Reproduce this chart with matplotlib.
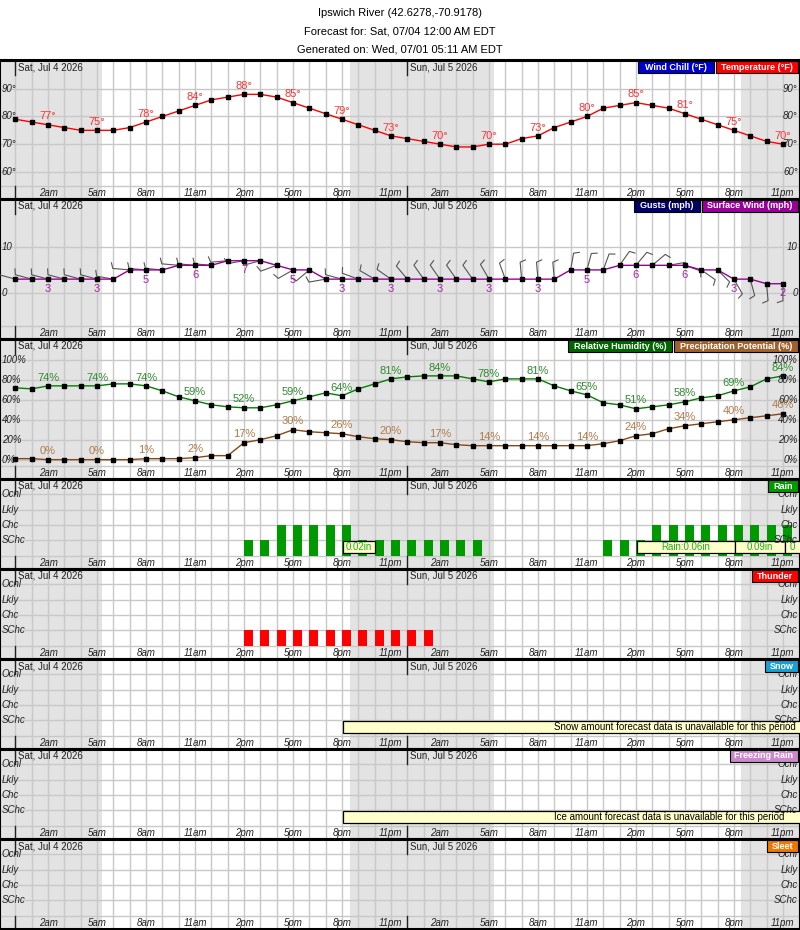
import numpy as np
import matplotlib
matplotlib.use("Agg")
import matplotlib.pyplot as plt
from matplotlib.patches import Rectangle
from matplotlib.collections import LineCollection

plt.rcParams['font.family'] = ['Liberation Sans', 'DejaVu Sans']

# ---- data (hourly, Sat 12am .. Sun 11pm) ----
hours = np.arange(48)
temp = [79, 78, 77, 76, 75, 75, 75, 76, 78, 80, 82, 84, 86, 87, 88, 88, 87, 85, 83, 81, 79, 77, 75, 73,
        72, 71, 70, 69, 69, 70, 70, 72, 73, 76, 78, 80, 83, 84, 85, 84, 83, 81, 79, 77, 75, 73, 71, 70]
wind = [3, 3, 3, 3, 3, 3, 3, 5, 5, 5, 6, 6, 6, 7, 7, 7, 6, 5, 5, 3, 3, 3, 3, 3,
        3, 3, 3, 3, 3, 3, 3, 3, 3, 3, 5, 5, 5, 6, 6, 6, 6, 6, 5, 5, 3, 3, 2, 2]
wind_dir = [285, 285, 285, 285, 285, 285, 280, 275, 275, 275, 275, 275, 275, 265, 260, 255, 250, 240, 230, 260, 285, 290, 300, 305,
            320, 325, 325, 325, 325, 330, 340, 355, 355, 355, 10, 15, 20, 35, 40, 50, 80, 110, 125, 135, 150, 165, 175, 180]
rh = [72, 71, 74, 74, 74, 74, 76, 76, 74, 69, 63, 59, 55, 53, 52, 52, 55, 59, 63, 67, 64, 71, 76, 81,
      83, 84, 84, 84, 81, 78, 81, 81, 81, 74, 69, 65, 57, 55, 51, 53, 55, 58, 62, 64, 69, 73, 81, 84]
pop = [1, 1, 0, 0, 0, 0, 0, 0, 1, 1, 1, 2, 4, 4, 17, 20, 24, 30, 28, 27, 26, 23, 21, 20,
       18, 17, 17, 15, 14, 14, 14, 14, 14, 14, 14, 14, 16, 19, 24, 26, 31, 34, 36, 38, 40, 42, 44, 46]
# 0 none, 1 SChc, 2 Chc, 3 Lkly, 4 Ocnl
rain = [0] * 14 + [1, 1, 2, 2, 2, 2, 2, 1, 1, 1] + [1, 1, 1, 1, 1] + [0] * 7 + [1, 1, 1] + [2] * 9
thunder = [0] * 14 + [1] * 12 + [0] * 22
rain_amt = [(20, 22, "0.02in"), (38, 44, "Rain:0.06in"), (44, 47.1, "0.09in"), (47.1, 53.1, "0")]

hour_names = ["2am", "5am", "8am", "11am", "2pm", "5pm", "8pm", "11pm"]
days = ["Sat, Jul 4 2026", "Sun, Jul 5 2026"]
nights = [(-1, 5.28), (20.47, 29.3), (44.41, 49)]

W, H = 800, 930
PXH = 16.33  # pixels per hour
XL = (-15.4 / PXH, (800 - 15.4) / PXH)
fig = plt.figure(figsize=(W / 100, H / 100), dpi=100)
fig.patch.set_facecolor('white')

fig.text(0.5, 1 - 13 / H, "Ipswich River (42.6278,-70.9178)", ha='center', va='center', fontsize=8)
fig.text(0.5, 1 - 32 / H, "Forecast for: Sat, 07/04 12:00 AM EDT", ha='center', va='center', fontsize=8)
fig.text(0.5, 1 - 50 / H, "Generated on: Wed, 07/01 05:11 AM EDT", ha='center', va='center', fontsize=8)

GRID = '#c8c8c8'


def panel(top, bot, ylim, hlines, ylabels, legends, right_lab=True):
    ax = fig.add_axes([0, 1 - bot / H, 1, (bot - top) / H])
    ax.set_xlim(*XL)
    ax.set_ylim(*ylim)
    ax.set_xticks([])
    ax.set_yticks([])
    for s in ['top', 'bottom']:
        ax.spines[s].set_linewidth(2.2)
    for s in ['left', 'right']:
        ax.spines[s].set_linewidth(1.5)
    for a, b in nights:
        ax.axvspan(a, b, color='#e3e3e3', lw=0, zorder=0)
    for h in range(0, 49):
        ax.axvline(h, color=GRID, lw=1, zorder=1)
    hpx = bot - top
    sep = 13.3 / hpx
    ax.plot([0, 1], [sep, sep], transform=ax.transAxes, color=GRID, lw=1, zorder=1)
    for y in hlines:
        ax.axhline(y, color=GRID, lw=1, zorder=1)
    tr = ax.get_xaxis_transform()
    for d in (0, 24):
        ax.plot([d, d], [1, 1 - 15 / hpx], transform=tr, color='#222222', lw=1, zorder=2)
        ax.plot([d, d], [0, sep], transform=tr, color='#222222', lw=1, zorder=2)
        ax.text(d + 0.15, 1 - 7 / hpx, days[d // 24], transform=tr, fontsize=7, va='center', ha='left', color='#222222')
    for i, h in enumerate(range(2, 48, 3)):
        ax.text(h, 6.5 / hpx, hour_names[i % 8], transform=tr, fontsize=7, style='italic',
                ha='center', va='center', color='#222222')
    for y, s in ylabels:
        ax.text(0.002, y, s, transform=ax.get_yaxis_transform(), fontsize=7, style='italic',
                ha='left', va='center', color='#222222', zorder=6)
        if right_lab:
            ax.text(0.997, y, s, transform=ax.get_yaxis_transform(), fontsize=7, style='italic',
                    ha='right', va='center', color='#222222', zorder=6)
    # legend boxes, right to left
    x = W - 2
    for txt, col, wpx in legends:
        fig.patches.append(Rectangle(((x - wpx) / W, 1 - (top + 13) / H), wpx / W, 12 / H,
                                     transform=fig.transFigure, facecolor=col, edgecolor='black', lw=0.8, zorder=10))
        fig.text((x - wpx / 2) / W, 1 - (top + 7) / H, txt, ha='center', va='center', fontsize=6.5,
                 fontweight='bold', color='white', zorder=11)
        x -= wpx + 2
    return ax


def label_series(ax, vals, color, dy, fmt):
    for h in range(2, 48, 3):
        ax.annotate(fmt.format(vals[h]), (h, vals[h]), xytext=(0, dy), textcoords='offset points',
                    ha='center', va='center', fontsize=8, color=color, zorder=7)


# temperature
ax = panel(60, 199, (50.2, 100.4), [60, 70, 80, 90],
           [(90, "90°"), (80, "80°"), (70, "70°"), (60, "60°")],
           [("Temperature (°F)", '#ff0000', 82), ("Wind Chill (°F)", '#0000cc', 76)])
ax.plot(hours, temp, color='#ff0000', lw=1, marker='s', ms=2.5, mfc='black', mec='black', zorder=5)
label_series(ax, temp, '#ff3333', 6, "{}°")

# wind
wlim = (-10, 20.4)
ax = panel(199, 339, wlim, [0, 10],
           [(10, "10"), (0, "0")],
           [("Surface Wind (mph)", '#990099', 96), ("Gusts (mph)", '#000066', 66)])
pxy = 140 / (wlim[1] - wlim[0])  # pixels per mph
rad = np.deg2rad(wind_dir)
segs = []
for h, s, r in zip(hours, wind, rad):
    # shaft toward the direction the wind comes from, half barb at the tip (clockwise side)
    ux, uy = np.sin(r), np.cos(r)
    tipx, tipy = ux * 17, uy * 17
    bx, by = tipx + uy * 6 + ux * 2, tipy - ux * 6 + uy * 2
    segs.append([(h, s), (h + tipx / PXH, s + tipy / pxy), (h + bx / PXH, s + by / pxy)])
ax.add_collection(LineCollection(segs, colors='#555555', linewidths=0.8, zorder=3))
ax.plot(hours, wind, color='#990099', lw=1, marker='s', ms=2.5, mfc='black', mec='black', zorder=5)
label_series(ax, wind, '#aa22aa', -7, "{}")

# humidity / precip potential
ax = panel(339, 479, (-19.4, 121), [0, 20, 40, 60, 80, 100],
           [(100, "100%"), (80, "80%"), (60, "60%"), (40, "40%"), (20, "20%"), (0, "0%")],
           [("Precipitation Potential (%)", '#a0622d', 124), ("Relative Humidity (%)", '#006600', 104)])
ax.plot(hours, rh, color='#008000', lw=1, marker='s', ms=2.5, mfc='black', mec='black', zorder=5)
ax.plot(hours, pop, color='#8b4513', lw=1, marker='s', ms=2.5, mfc='black', mec='black', zorder=5)
label_series(ax, rh, '#2e8b2e', 6, "{}%")
label_series(ax, pop, '#b07a4a', 6, "{}%")

cat_lab = [(4, "Ocnl"), (3, "Lkly"), (2, "Chc"), (1, "SChc")]
cat_lim = (-0.87, 5.0)

# rain
ax = panel(479, 569, cat_lim, [1, 2, 3, 4], cat_lab, [("Rain", '#009900', 30)])
ax.bar(hours, rain, width=0.55, align='edge', color='#009900', zorder=3)
for a, b, t in rain_amt:
    ax.add_patch(Rectangle((a + 0.05, 0.2), b - a, 0.78, facecolor='#ffffcc', edgecolor='black', lw=0.9, zorder=4))
    if b > 48:
        ax.text(a + 0.3, 0.59, t, ha='left', va='center', fontsize=7, color='#22aa22', zorder=5)
    else:
        ax.text((a + b) / 2 + 0.05, 0.59, t, ha='center', va='center', fontsize=7, color='#22aa22', zorder=5)

# thunder
ax = panel(569, 659, cat_lim, [1, 2, 3, 4], cat_lab, [("Thunder", '#ff0000', 46)])
ax.bar(hours, thunder, width=0.55, align='edge', color='#ff0000', zorder=3)

# snow
ax = panel(659, 749, cat_lim, [1, 2, 3, 4], cat_lab, [("Snow", '#1a9fd0', 33)])
ax.add_patch(Rectangle((20.05, 0.2), 30, 0.78, facecolor='#ffffcc', edgecolor='black', lw=0.9, zorder=4))
ax.text(0.995, 0.59, "Snow amount forecast data is unavailable for this period", transform=ax.get_yaxis_transform(),
        ha='right', va='center', fontsize=7, zorder=5)

# freezing rain
ax = panel(749, 839, cat_lim, [1, 2, 3, 4], cat_lab, [("Freezing Rain", '#cc88cc', 68)])
ax.add_patch(Rectangle((20.05, 0.2), 30, 0.78, facecolor='#ffffcc', edgecolor='black', lw=0.9, zorder=4))
ax.text(0.98, 0.59, "Ice amount forecast data is unavailable for this period", transform=ax.get_yaxis_transform(),
        ha='right', va='center', fontsize=7, zorder=5)

# sleet
ax = panel(839, 929, cat_lim, [1, 2, 3, 4], cat_lab, [("Sleet", '#ee7700', 31)])

fig.savefig("out.png", dpi=100)
